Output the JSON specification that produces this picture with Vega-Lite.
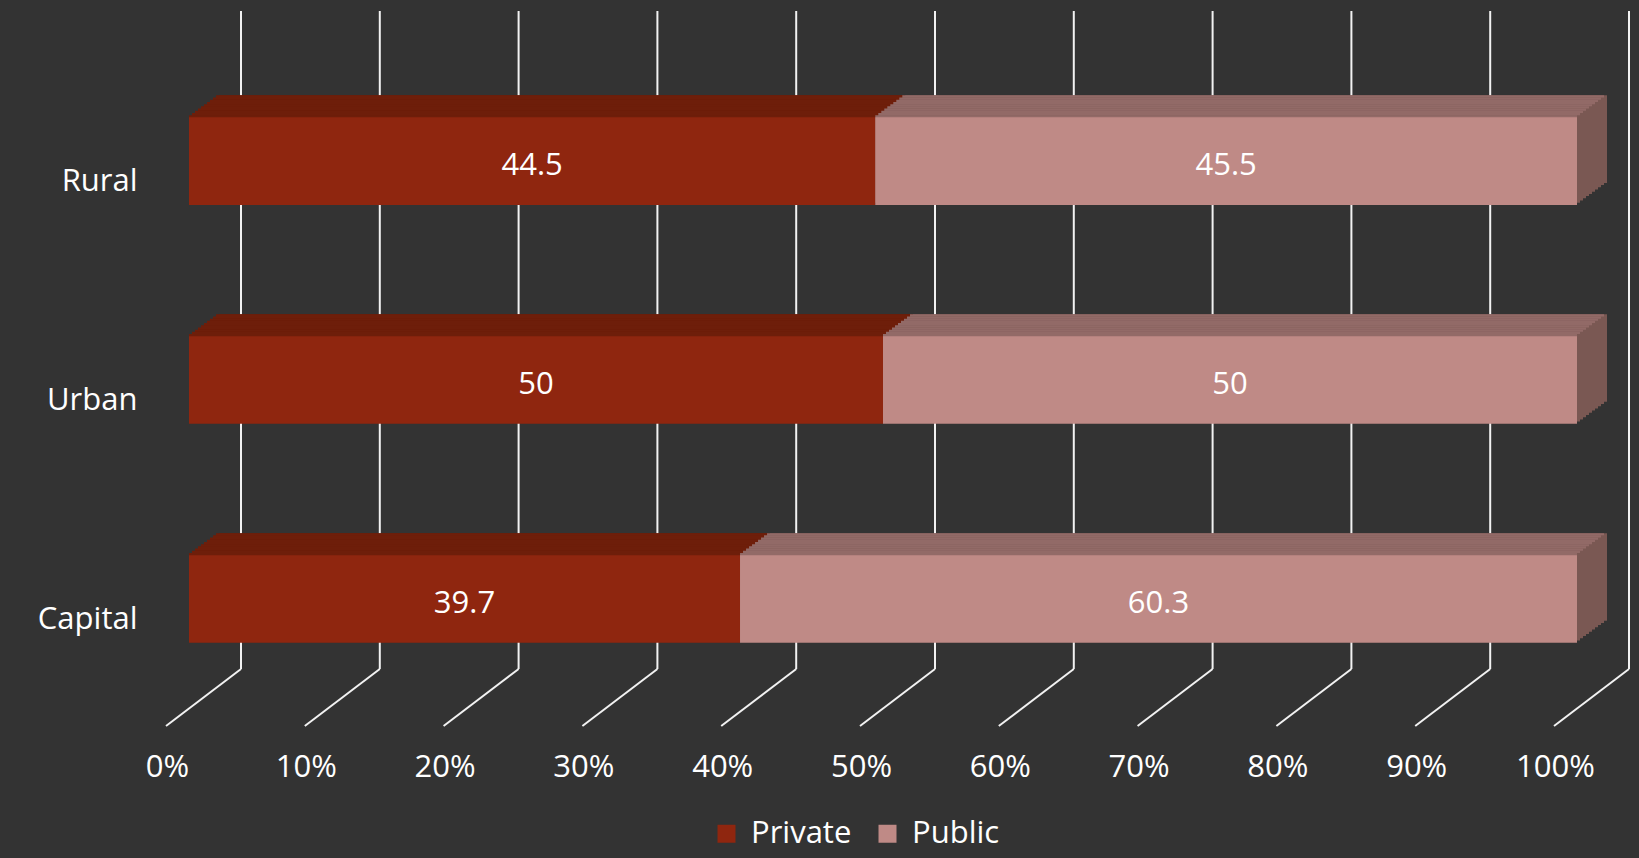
{
"$schema":"https://vega.github.io/schema/vega-lite/v6.json",
"width":1388,"height":715,"autosize":{"type":"none"},
"padding":{"left":189,"top":11,"right":62,"bottom":132},
"background":"#333333",
"datasets":{
"shares":[{"area":"Rural","type":"Private","value":44.5},{"area":"Rural","type":"Public","value":45.5},{"area":"Urban","type":"Private","value":50},{"area":"Urban","type":"Public","value":50},{"area":"Capital","type":"Private","value":39.7},{"area":"Capital","type":"Public","value":60.3}],
"ticks":[{"tick":0},{"tick":0.1},{"tick":0.2},{"tick":0.3},{"tick":0.4},{"tick":0.5},{"tick":0.6},{"tick":0.7},{"tick":0.8},{"tick":0.9},{"tick":1}]
},
"layer":[
{"data":{"name":"ticks"},
 "layer":[
  {"mark":{"type":"rule","xOffset":52,"color":"#F2F2F2","strokeWidth":2},
   "encoding":{"x":{"field":"tick","type":"quantitative","title":null},"y":{"datum":0.0797,"type":"quantitative","scale":{"domain":[0,1]},"axis":null},"y2":{"datum":1}}},
  {"mark":{"type":"rule","xOffset":-23,"x2Offset":52,"color":"#F2F2F2","strokeWidth":2},
   "encoding":{"x":{"field":"tick","type":"quantitative","title":null},"x2":{"field":"tick"},"y":{"datum":0,"type":"quantitative","scale":{"domain":[0,1]},"axis":null},"y2":{"datum":0.0797}}}
 ]},
{"data":{"name":"shares"},
 "layer":[
  {"mark":{"type":"bar","xOffset":30,"x2Offset":30,"yOffset":-22},"encoding":{"x":{"field":"value","type":"quantitative","stack":"normalize","title":null},"y":{"field":"area","type":"nominal","sort":["Rural","Urban","Capital"],"title":null,"scale":{"paddingInner":0.6,"paddingOuter":0.4332,"align":0.5607}},"detail":{"field":"type"},"fill":{"condition":{"test":"datum.type === 'Private'","value":"#6E1E0A"},"value":"#7A5853"}}},
  {"mark":{"type":"bar","xOffset":27,"x2Offset":30,"yOffset":-22},"encoding":{"x":{"field":"value","type":"quantitative","stack":"normalize","title":null},"y":{"field":"area","type":"nominal","sort":["Rural","Urban","Capital"],"title":null,"scale":{"paddingInner":0.6,"paddingOuter":0.4332,"align":0.5607}},"detail":{"field":"type"},"fill":{"condition":{"test":"datum.type === 'Private'","value":"#6E1E0A"},"value":"#926A67"}}},
  {"mark":{"type":"bar","xOffset":27,"x2Offset":27,"yOffset":-19.8},"encoding":{"x":{"field":"value","type":"quantitative","stack":"normalize","title":null},"y":{"field":"area","type":"nominal","sort":["Rural","Urban","Capital"],"title":null},"detail":{"field":"type"},"fill":{"condition":{"test":"datum.type === 'Private'","value":"#6E1E0A"},"value":"#7A5853"}}},
  {"mark":{"type":"bar","xOffset":24,"x2Offset":27,"yOffset":-19.8},"encoding":{"x":{"field":"value","type":"quantitative","stack":"normalize","title":null},"y":{"field":"area","type":"nominal","sort":["Rural","Urban","Capital"],"title":null},"detail":{"field":"type"},"fill":{"condition":{"test":"datum.type === 'Private'","value":"#6E1E0A"},"value":"#926A67"}}},
  {"mark":{"type":"bar","xOffset":24,"x2Offset":24,"yOffset":-17.6},"encoding":{"x":{"field":"value","type":"quantitative","stack":"normalize","title":null},"y":{"field":"area","type":"nominal","sort":["Rural","Urban","Capital"],"title":null},"detail":{"field":"type"},"fill":{"condition":{"test":"datum.type === 'Private'","value":"#6E1E0A"},"value":"#7A5853"}}},
  {"mark":{"type":"bar","xOffset":21,"x2Offset":24,"yOffset":-17.6},"encoding":{"x":{"field":"value","type":"quantitative","stack":"normalize","title":null},"y":{"field":"area","type":"nominal","sort":["Rural","Urban","Capital"],"title":null},"detail":{"field":"type"},"fill":{"condition":{"test":"datum.type === 'Private'","value":"#6E1E0A"},"value":"#926A67"}}},
  {"mark":{"type":"bar","xOffset":21,"x2Offset":21,"yOffset":-15.4},"encoding":{"x":{"field":"value","type":"quantitative","stack":"normalize","title":null},"y":{"field":"area","type":"nominal","sort":["Rural","Urban","Capital"],"title":null},"detail":{"field":"type"},"fill":{"condition":{"test":"datum.type === 'Private'","value":"#6E1E0A"},"value":"#7A5853"}}},
  {"mark":{"type":"bar","xOffset":18,"x2Offset":21,"yOffset":-15.4},"encoding":{"x":{"field":"value","type":"quantitative","stack":"normalize","title":null},"y":{"field":"area","type":"nominal","sort":["Rural","Urban","Capital"],"title":null},"detail":{"field":"type"},"fill":{"condition":{"test":"datum.type === 'Private'","value":"#6E1E0A"},"value":"#926A67"}}},
  {"mark":{"type":"bar","xOffset":18,"x2Offset":18,"yOffset":-13.2},"encoding":{"x":{"field":"value","type":"quantitative","stack":"normalize","title":null},"y":{"field":"area","type":"nominal","sort":["Rural","Urban","Capital"],"title":null},"detail":{"field":"type"},"fill":{"condition":{"test":"datum.type === 'Private'","value":"#6E1E0A"},"value":"#7A5853"}}},
  {"mark":{"type":"bar","xOffset":15,"x2Offset":18,"yOffset":-13.2},"encoding":{"x":{"field":"value","type":"quantitative","stack":"normalize","title":null},"y":{"field":"area","type":"nominal","sort":["Rural","Urban","Capital"],"title":null},"detail":{"field":"type"},"fill":{"condition":{"test":"datum.type === 'Private'","value":"#6E1E0A"},"value":"#926A67"}}},
  {"mark":{"type":"bar","xOffset":15,"x2Offset":15,"yOffset":-11},"encoding":{"x":{"field":"value","type":"quantitative","stack":"normalize","title":null},"y":{"field":"area","type":"nominal","sort":["Rural","Urban","Capital"],"title":null},"detail":{"field":"type"},"fill":{"condition":{"test":"datum.type === 'Private'","value":"#6E1E0A"},"value":"#7A5853"}}},
  {"mark":{"type":"bar","xOffset":12,"x2Offset":15,"yOffset":-11},"encoding":{"x":{"field":"value","type":"quantitative","stack":"normalize","title":null},"y":{"field":"area","type":"nominal","sort":["Rural","Urban","Capital"],"title":null},"detail":{"field":"type"},"fill":{"condition":{"test":"datum.type === 'Private'","value":"#6E1E0A"},"value":"#926A67"}}},
  {"mark":{"type":"bar","xOffset":12,"x2Offset":12,"yOffset":-8.8},"encoding":{"x":{"field":"value","type":"quantitative","stack":"normalize","title":null},"y":{"field":"area","type":"nominal","sort":["Rural","Urban","Capital"],"title":null},"detail":{"field":"type"},"fill":{"condition":{"test":"datum.type === 'Private'","value":"#6E1E0A"},"value":"#7A5853"}}},
  {"mark":{"type":"bar","xOffset":9,"x2Offset":12,"yOffset":-8.8},"encoding":{"x":{"field":"value","type":"quantitative","stack":"normalize","title":null},"y":{"field":"area","type":"nominal","sort":["Rural","Urban","Capital"],"title":null},"detail":{"field":"type"},"fill":{"condition":{"test":"datum.type === 'Private'","value":"#6E1E0A"},"value":"#926A67"}}},
  {"mark":{"type":"bar","xOffset":9,"x2Offset":9,"yOffset":-6.6},"encoding":{"x":{"field":"value","type":"quantitative","stack":"normalize","title":null},"y":{"field":"area","type":"nominal","sort":["Rural","Urban","Capital"],"title":null},"detail":{"field":"type"},"fill":{"condition":{"test":"datum.type === 'Private'","value":"#6E1E0A"},"value":"#7A5853"}}},
  {"mark":{"type":"bar","xOffset":6,"x2Offset":9,"yOffset":-6.6},"encoding":{"x":{"field":"value","type":"quantitative","stack":"normalize","title":null},"y":{"field":"area","type":"nominal","sort":["Rural","Urban","Capital"],"title":null},"detail":{"field":"type"},"fill":{"condition":{"test":"datum.type === 'Private'","value":"#6E1E0A"},"value":"#926A67"}}},
  {"mark":{"type":"bar","xOffset":6,"x2Offset":6,"yOffset":-4.4},"encoding":{"x":{"field":"value","type":"quantitative","stack":"normalize","title":null},"y":{"field":"area","type":"nominal","sort":["Rural","Urban","Capital"],"title":null},"detail":{"field":"type"},"fill":{"condition":{"test":"datum.type === 'Private'","value":"#6E1E0A"},"value":"#7A5853"}}},
  {"mark":{"type":"bar","xOffset":3,"x2Offset":6,"yOffset":-4.4},"encoding":{"x":{"field":"value","type":"quantitative","stack":"normalize","title":null},"y":{"field":"area","type":"nominal","sort":["Rural","Urban","Capital"],"title":null},"detail":{"field":"type"},"fill":{"condition":{"test":"datum.type === 'Private'","value":"#6E1E0A"},"value":"#926A67"}}},
  {"mark":{"type":"bar","xOffset":3,"x2Offset":3,"yOffset":-2.2},"encoding":{"x":{"field":"value","type":"quantitative","stack":"normalize","title":null},"y":{"field":"area","type":"nominal","sort":["Rural","Urban","Capital"],"title":null},"detail":{"field":"type"},"fill":{"condition":{"test":"datum.type === 'Private'","value":"#6E1E0A"},"value":"#7A5853"}}},
  {"mark":{"type":"bar","xOffset":0,"x2Offset":3,"yOffset":-2.2},"encoding":{"x":{"field":"value","type":"quantitative","stack":"normalize","title":null},"y":{"field":"area","type":"nominal","sort":["Rural","Urban","Capital"],"title":null},"detail":{"field":"type"},"fill":{"condition":{"test":"datum.type === 'Private'","value":"#6E1E0A"},"value":"#926A67"}}},
  {"mark":{"type":"bar"},
   "encoding":{
    "x":{"field":"value","type":"quantitative","stack":"normalize","title":null,"scale":{"domain":[0,1]},
      "axis":{"values":[0,0.1,0.2,0.3,0.4,0.5,0.6,0.7,0.8,0.9,1],"format":".0%","labelOffset":-22,"labelPadding":26,"ticks":false,"tickSize":0,"domain":false,"grid":false,"labelFlush":false,"labelOverlap":false,"labelBound":false,"labelFontSize":31,"labelColor":"#FFFFFF","labelFont":"Open Sans"}},
    "y":{"field":"area","type":"nominal","sort":["Rural","Urban","Capital"],"title":null},
    "color":{"field":"type","type":"nominal","scale":{"domain":["Private","Public"],"range":["#8F260F","#BF8A86"]},
      "legend":{"orient":"none","legendX":522,"legendY":807,"direction":"horizontal","title":null,"symbolType":"square","symbolSize":324,"symbolStrokeWidth":0,"labelFontSize":31,"labelColor":"#FFFFFF","labelFont":"Open Sans","labelOffset":9,"columnPadding":20,"padding":0}}}},
  {"mark":{"type":"text","color":"#FFFFFF","font":"Open Sans","fontSize":31,"dy":5},
   "encoding":{
    "x":{"field":"value","type":"quantitative","stack":"normalize","bandPosition":0.5,"title":null},
    "y":{"field":"area","type":"nominal","sort":["Rural","Urban","Capital"],"title":null},
    "detail":{"field":"type"},
    "text":{"field":"value","type":"quantitative"}}}
 ]}
],
"resolve":{"scale":{"y":"independent"}},
"config":{
 "view":{"stroke":null},
 "axisY":{"domain":false,"ticks":false,"tickSize":0,"grid":false,"labelFontSize":31,"labelColor":"#FFFFFF","labelFont":"Open Sans","labelPadding":52,"labelOffset":21}
}
}
